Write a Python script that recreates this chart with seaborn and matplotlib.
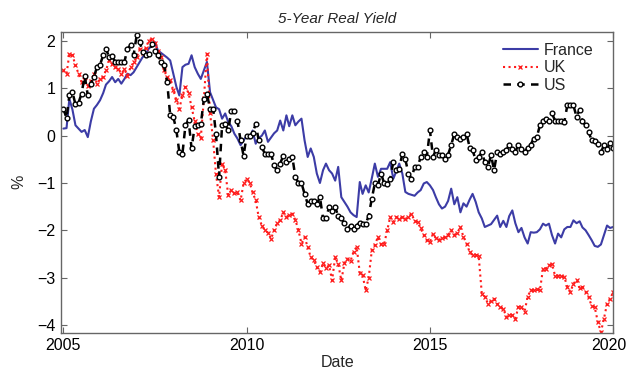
import numpy as np
import pandas as pd
import matplotlib
matplotlib.use("Agg")
import matplotlib.pyplot as plt
import matplotlib.dates as mdates
import matplotlib.transforms as mtransforms
import seaborn as sns

# Monthly 5-year real yields (%), January 2005 through January 2020
dates = pd.date_range("2005-01-01", periods=181, freq="MS")

france = [
    0.15, 0.16, 0.78, 0.55, 0.22, 0.15, 0.08, 0.12, -0.03, 0.30, 0.57, 0.65,
    0.75, 0.90, 1.08, 1.15, 1.24, 1.13, 1.20, 1.10, 1.20, 1.31, 1.28, 1.34,
    1.45, 1.56, 1.66, 1.72, 1.84, 1.90, 1.98, 1.80, 1.75, 1.70, 1.65, 1.59,
    1.31, 1.03, 0.85, 1.45, 1.50, 1.52, 1.70, 1.45, 1.31, 1.20, 1.38, 1.56,
    0.92, 0.75, 0.60, 0.56, 0.36, 0.47, 0.29, 0.20, 0.04, -0.06, -0.20, -0.10,
    0.00, -0.06, 0.11, -0.17, -0.05, 0.00, 0.11, -0.13, -0.04, 0.05, 0.11, 0.32,
    0.11, 0.43, 0.20, 0.43, 0.22, 0.30, 0.36, -0.10, -0.45, -0.27, -0.45, -0.80,
    -1.00, -0.73, -0.59, -0.73, -0.80, -0.95, -0.66, -1.30, -1.40, -1.50, -1.62, -1.68,
    -1.72, -0.98, -1.23, -1.05, -1.20, -0.90, -0.59, -0.87, -0.70, -0.70, -0.70, -0.56,
    -0.91, -0.75, -0.59, -0.80, -1.19, -1.23, -1.25, -1.27, -1.20, -1.15, -1.01, -0.98,
    -1.05, -1.15, -1.30, -1.45, -1.54, -1.50, -1.38, -1.12, -1.45, -1.30, -1.62, -1.43,
    -1.50, -1.35, -1.23, -1.40, -1.62, -1.75, -1.93, -1.90, -1.87, -1.78, -1.69, -1.93,
    -1.80, -1.93, -1.70, -1.58, -1.85, -2.04, -1.95, -2.15, -2.28, -2.04, -2.05, -2.04,
    -1.98, -1.86, -1.90, -1.86, -2.10, -2.28, -2.07, -2.15, -1.98, -1.93, -1.93, -1.79,
    -1.85, -1.81, -1.94, -2.00, -2.10, -2.21, -2.33, -2.35, -2.30, -2.10, -1.90, -1.95,
    -1.93,
]

uk = [
    1.38, 1.30, 1.73, 1.70, 1.49, 1.31, 1.13, 1.25, 1.06, 1.15, 1.31, 1.10,
    1.20, 1.25, 1.38, 1.59, 1.52, 1.45, 1.42, 1.31, 1.40, 1.27, 1.45, 1.55,
    1.66, 1.84, 1.75, 1.85, 2.01, 2.05, 1.95, 1.80, 1.66, 1.38, 1.24, 1.17,
    0.96, 0.75, 0.57, 0.85, 1.03, 0.90, 0.60, 0.30, 0.04, -0.05, 0.80, 1.73,
    0.48, -0.10, -0.80, -1.30, -0.59, -0.73, -1.26, -1.15, -1.22, -1.20, -1.37, -1.01,
    -0.91, -1.00, -1.20, -1.37, -1.72, -1.90, -2.00, -2.05, -2.18, -2.00, -1.85, -1.79,
    -1.62, -1.72, -1.68, -1.65, -1.78, -2.00, -2.28, -2.15, -2.35, -2.57, -2.63, -2.78,
    -2.88, -2.70, -2.80, -2.74, -3.06, -2.57, -2.71, -3.06, -2.70, -2.60, -2.65, -2.45,
    -2.35, -2.90, -2.95, -3.27, -3.00, -2.42, -2.31, -2.14, -2.30, -2.30, -2.00, -1.72,
    -1.83, -1.72, -1.76, -1.72, -1.76, -1.72, -1.65, -1.80, -1.83, -1.96, -2.10, -2.21,
    -2.25, -2.07, -2.17, -2.20, -2.17, -2.14, -2.10, -2.00, -2.10, -2.05, -1.93, -2.14,
    -2.28, -2.46, -2.53, -2.52, -2.55, -3.34, -3.40, -3.55, -3.50, -3.45, -3.55, -3.62,
    -3.66, -3.83, -3.80, -3.80, -3.87, -3.62, -3.62, -3.72, -3.40, -3.27, -3.27, -3.25,
    -3.27, -2.81, -2.81, -2.74, -2.71, -2.96, -2.96, -2.96, -2.98, -3.20, -3.30, -3.13,
    -3.05, -3.23, -3.20, -3.30, -3.41, -3.60, -3.62, -3.94, -4.15, -3.87, -3.55, -3.45,
    -3.31,
]

us = [
    0.57, 0.37, 0.85, 0.92, 0.66, 0.70, 0.89, 1.27, 0.85, 1.10, 1.24, 1.45,
    1.50, 1.70, 1.84, 1.66, 1.68, 1.56, 1.56, 1.56, 1.56, 1.84, 1.91, 1.70,
    2.12, 1.98, 1.77, 1.70, 1.72, 1.94, 1.80, 1.70, 1.56, 1.49, 1.13, 0.43,
    0.40, 0.11, -0.35, -0.38, 0.22, 0.33, -0.27, 0.20, 0.22, 0.24, 0.78, 0.88,
    0.57, 0.57, 0.04, -0.87, 0.22, 0.24, 0.11, 0.53, 0.53, 0.32, -0.10, -0.42,
    0.00, 0.00, 0.05, 0.25, -0.10, -0.24, -0.38, -0.38, -0.38, -0.63, -0.73, -0.59,
    -0.42, -0.55, -0.49, -0.45, -0.87, -1.00, -1.00, -1.23, -1.44, -1.38, -1.38, -1.44,
    -1.30, -1.75, -1.75, -1.51, -1.60, -1.51, -1.70, -1.75, -1.85, -1.97, -1.90, -1.97,
    -1.90, -1.84, -1.87, -1.87, -1.69, -1.33, -1.01, -1.05, -0.80, -1.00, -1.03, -0.91,
    -0.56, -0.73, -0.70, -0.38, -0.50, -0.80, -0.91, -0.66, -0.66, -0.45, -0.35, -0.45,
    0.11, -0.45, -0.30, -0.40, -0.41, -0.50, -0.40, -0.20, 0.04, -0.03, -0.06, -0.03,
    0.04, -0.25, -0.30, -0.52, -0.45, -0.35, -0.56, -0.66, -0.41, -0.73, -0.35, -0.38,
    -0.35, -0.30, -0.20, -0.28, -0.34, -0.19, -0.28, -0.35, -0.25, -0.19, -0.06, -0.03,
    0.22, 0.32, 0.35, 0.32, 0.47, 0.32, 0.30, 0.30, 0.29, 0.64, 0.64, 0.64,
    0.40, 0.55, 0.30, 0.22, 0.08, -0.10, -0.12, -0.17, -0.35, -0.20, -0.28, -0.15,
    -0.25,
]

sns.set_style("white")
plt.rcParams["font.family"] = ["Liberation Sans", "DejaVu Sans"]

fig = plt.figure(figsize=(6.29, 3.72), dpi=100)
ax = fig.add_axes([0.097, 0.105, 0.878, 0.81])

red = "#ff1a1a"
sns.lineplot(x=dates, y=france, ax=ax, color="#3c3ca6", linewidth=1.5,
             linestyle="-", label="France")
sns.lineplot(x=dates, y=uk, ax=ax, color=red, linewidth=1.5,
             linestyle=":", marker="x", markersize=3.2, markeredgewidth=0.9,
             markeredgecolor=red, label="UK")
sns.lineplot(x=dates, y=us, ax=ax, color="black", linewidth=1.8,
             linestyle=(0, (3.0, 2.5)), marker="o", markersize=3.4,
             markerfacecolor="white", markeredgecolor="black",
             markeredgewidth=1.0, label="US")

ax.set_xlim(pd.Timestamp("2004-12-08"), pd.Timestamp("2020-01-02"))
ax.set_ylim(-4.17, 2.2)
ax.xaxis.set_major_locator(mdates.YearLocator(5))
ax.xaxis.set_major_formatter(mdates.DateFormatter("%Y"))
ax.set_yticks([-4, -3, -2, -1, 0, 1, 2])
ax.set_yticklabels(["\u22124", "\u22123", "\u22122", "\u22121", "0", "1", "2"])

for s in ax.spines.values():
    s.set_visible(True)
    s.set_color("#666666")
    s.set_linewidth(1.0)
ax.tick_params(direction="in", length=4, width=0.8, color="#666666",
               labelsize=11.5, labelcolor="black", top=True, right=True,
               bottom=True, left=True, pad=4)

ax.set_title("5-Year Real Yield", fontsize=11, style="italic", pad=6)
ax.set_xlabel("Date", fontsize=11.5, labelpad=1)
ax.set_ylabel("%", fontsize=11.5, labelpad=8)

ax.legend(loc="upper right", frameon=False, fontsize=11.5,
          handlelength=2.2, handletextpad=0.4, labelspacing=0.15,
          borderaxespad=0.3, bbox_to_anchor=(0.985, 1.0))

# keep the last year label inside the figure edge
fig.canvas.draw()
last = ax.get_xticklabels()[-1]
last.set_transform(last.get_transform() +
                   mtransforms.ScaledTranslation(-4 / 100, 0, fig.dpi_scale_trans))

fig.savefig("out.png", dpi=100)
